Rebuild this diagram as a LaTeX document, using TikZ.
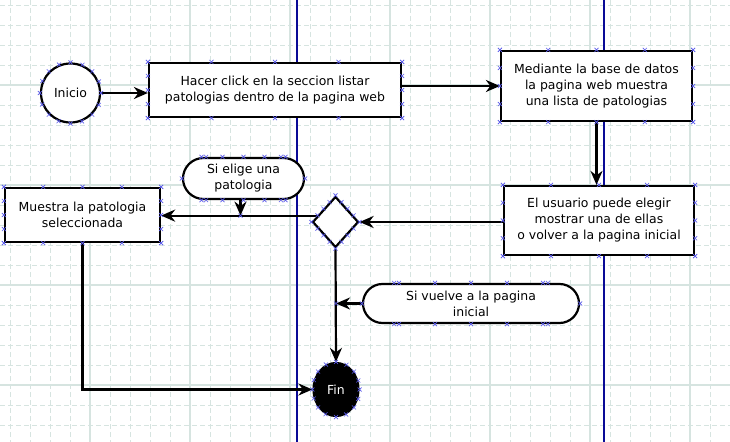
\documentclass[tikz,border=0pt]{standalone}
\usepackage{fontspec}
\setmainfont{DejaVu Sans}
\usetikzlibrary{arrows.meta,calc,shapes.geometric,shapes.misc}
\definecolor{gridc}{RGB}{214,228,224}
\definecolor{lanec}{RGB}{10,10,150}
\definecolor{mkc}{RGB}{90,90,235}
\newcommand\mkat[1]{\path #1 coordinate (mktmp); \draw[mk] (mktmp) +(-2,-2) -- +(2,2) +(-2,2) -- +(2,-2);}
\newcommand\rmarks[1]{\foreach \f in {0,0.25,0.5,0.75,1}{%
  \mkat{($(#1.north west)!\f!(#1.north east)$)}
  \mkat{($(#1.south west)!\f!(#1.south east)$)}
  \mkat{($(#1.north west)!\f!(#1.south west)$)}
  \mkat{($(#1.north east)!\f!(#1.south east)$)}}}
\begin{document}
\begin{tikzpicture}[x=1bp,y=-1bp,
  txt/.style={font=\fontsize{12.5}{16}\selectfont, align=center},
  box/.style={draw, line width=2.2bp, fill=white, txt, inner sep=0pt, rectangle},
  roundbox/.style={draw, line width=2.2bp, fill=white, txt, inner sep=0pt, circle},
  stadium/.style={draw, line width=2.2bp, fill=white, txt, inner sep=0pt, rounded rectangle},
  arr/.style={line width=2.2bp, -{Stealth[length=14bp,width=12bp,inset=4.5bp]}},
  mk/.style={draw=mkc, line width=0.6bp},
  minor/.style={draw=gridc, line width=0.8bp, dash pattern=on 5bp off 3bp},
  major/.style={draw=gridc, line width=1.1bp},
  lane/.style={draw=lanec, line width=1.2bp}]
\useasboundingbox (0,0) rectangle (730,442);
\fill[white] (0,0) rectangle (730,442);
% grid
\foreach \x in {10,30,...,730} \draw[minor] (\x,0) -- (\x,442);
\foreach \y in {5,25,...,442} \draw[minor] (0,\y) -- (730,\y);
\foreach \x in {90,190,...,690} \draw[major] (\x,0) -- (\x,442);
\foreach \y in {85,185,285,385} \draw[major] (0,\y) -- (730,\y);
% swimlane separators
\draw[lane] (297,0) -- (297,442);
\draw[lane] (604,0) -- (604,442);
% nodes
\node[roundbox, minimum size=59bp] (inicio) at (70.5,93) {Inicio};
\node[box, minimum width=252bp, minimum height=54bp] (r1) at (275,90)
  {Hacer click en la seccion listar\\patologias dentro de la pagina web};
\node[box, minimum width=191bp, minimum height=70bp] (r2) at (596.5,86)
  {Mediante la base de datos\\la pagina web muestra\\una lista de patologias};
\node[box, minimum width=190bp, minimum height=69bp] (r3) at (599,220.5)
  {El usuario puede elegir\\mostrar una de ellas\\o volver a la pagina inicial};
\node[draw, line width=2.2bp, fill=white, diamond, minimum width=46bp, minimum height=51bp, inner sep=0pt] (dia) at (335.5,222) {};
\node[box, minimum width=155bp, minimum height=54bp] (r4) at (82.5,215)
  {Muestra la patologia\\seleccionada};
\node[stadium, minimum width=121bp, minimum height=41bp] (l1) at (243.5,178.5)
  {Si elige una\\patologia};
\node[stadium, minimum width=216bp, minimum height=39bp] (l2) at (471,303.5)
  {Si vuelve a la pagina\\inicial};
\node[draw, line width=2.2bp, fill=black, ellipse, minimum width=45bp, minimum height=53bp, inner sep=0pt, txt, text=white] (fin) at (336,389.5) {Fin};
% connectors
\draw[arr] (inicio.east) -- (inicio.east -| r1.west);
\draw[arr] (r1.east |- r2.west) -- (r2.west);
\draw[arr] (r2.south) -- (r2.south |- r3.north);
\draw[arr] (r3.west |- dia.east) -- (dia.east);
\path ($(dia.north)!0.76!(dia.west)$) coordinate (diaw);
\draw[arr] (diaw) -- (diaw -| r4.east);
\coordinate (j1) at ($(l1.south |- diaw)+(-3,0)$);
\draw[arr] (j1 |- l1.south) -- (j1);
\draw[arr] (dia.south) -- (fin.north);
\coordinate (j2) at (l2.west -| fin.north);
\draw[arr] (l2.west) -- (j2);
\draw[arr] (r4.south) -- (r4.south |- fin.west) -- (fin.west);
% selection handles
\rmarks{r1}\rmarks{r2}\rmarks{r3}\rmarks{r4}
\foreach \a in {0,22.5,...,337.5} {\mkat{(inicio.\a)} \mkat{(fin.\a)}}
\foreach \f in {0,0.25,0.5,0.75} {%
  \mkat{($(dia.north)!\f!(dia.east)$)} \mkat{($(dia.east)!\f!(dia.south)$)}
  \mkat{($(dia.south)!\f!(dia.west)$)} \mkat{($(dia.west)!\f!(dia.north)$)}}
\foreach \dx in {-42,-21,0,21,42} {\mkat{($(l1.north)+(\dx,0)$)} \mkat{($(l1.south)+(\dx,0)$)}}
\foreach \a in {0,30,150,180,210,330} {\mkat{(l1.\a)}}
\foreach \dx in {-72,-36,0,36,72} {\mkat{($(l2.north)+(\dx,0)$)} \mkat{($(l2.south)+(\dx,0)$)}}
\foreach \a in {0,15,165,180,195,345} {\mkat{(l2.\a)}}
\mkat{(j1)} \mkat{(j2)}
\end{tikzpicture}
\end{document}
